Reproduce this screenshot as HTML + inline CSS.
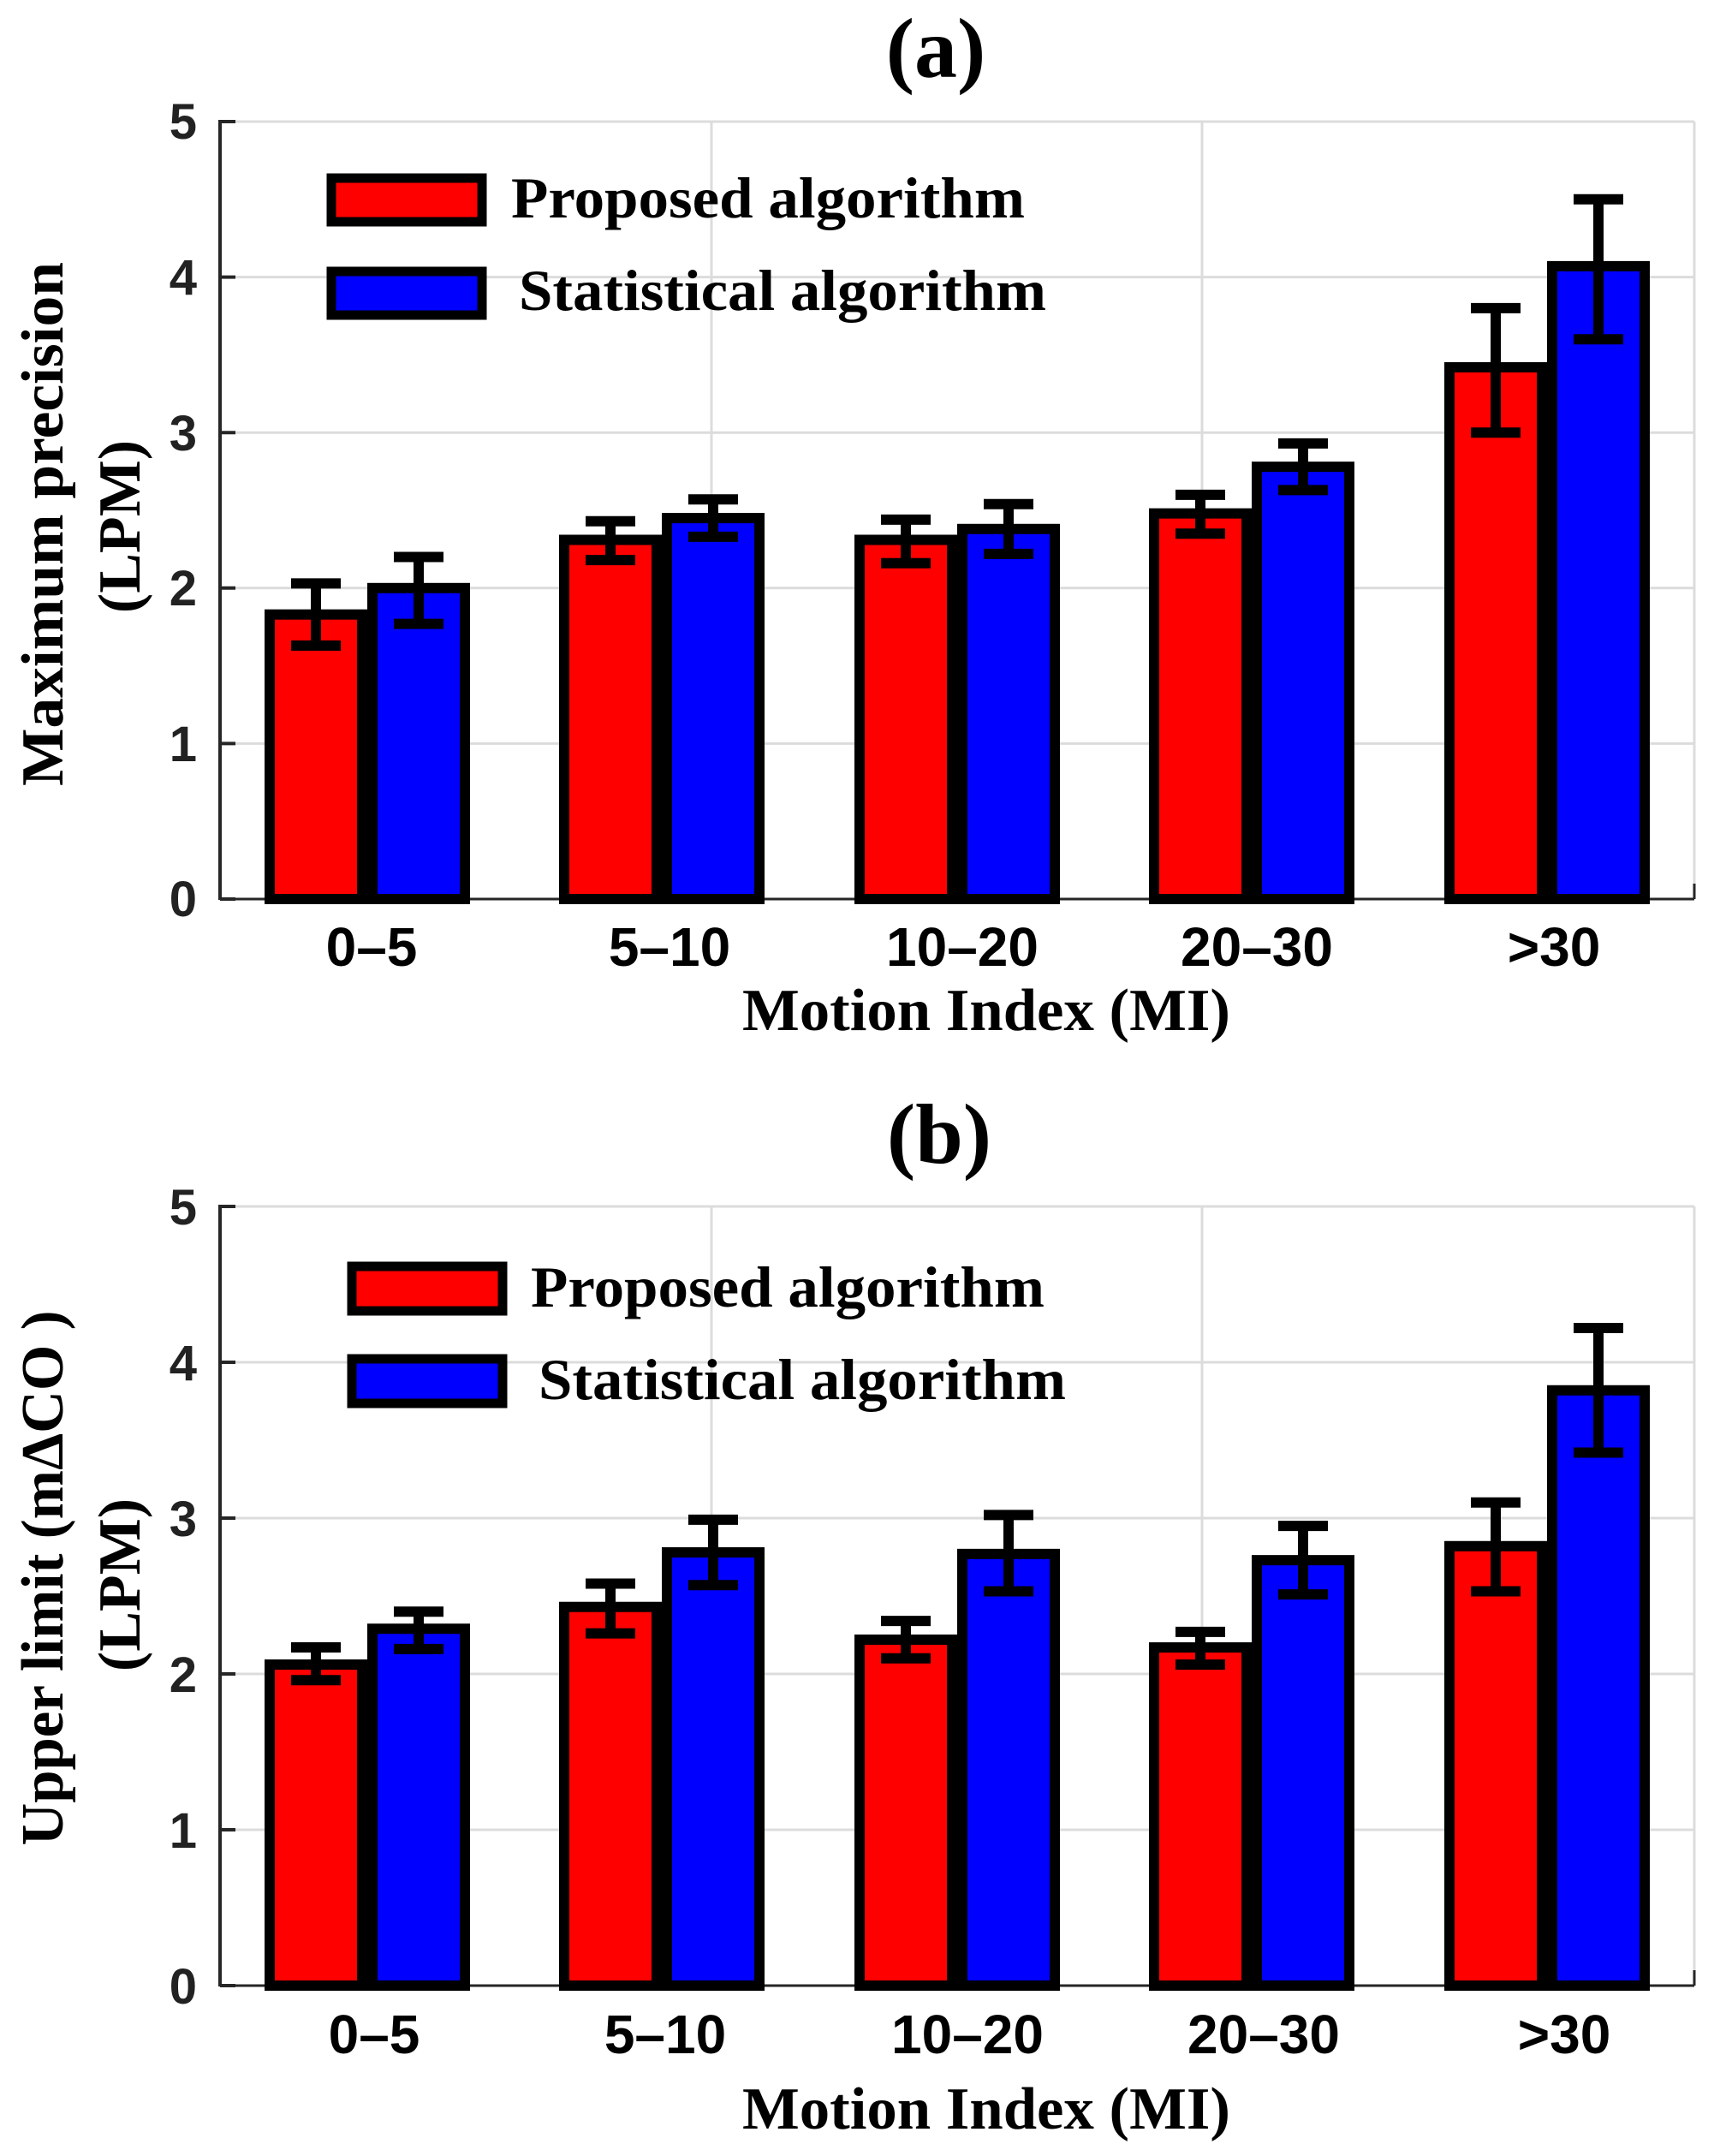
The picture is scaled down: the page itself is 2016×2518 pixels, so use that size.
<!DOCTYPE html>
<html><head><meta charset="utf-8"><style>
html,body{margin:0;padding:0;background:#fff;}
svg{display:block;}
.tk{font-family:"Liberation Sans",sans-serif;font-weight:bold;font-size:58px;fill:#222;}
.xt{font-family:"Liberation Sans",sans-serif;font-weight:bold;font-size:64px;fill:#000;}
.sf{font-family:"Liberation Serif",serif;font-weight:bold;fill:#000;}
</style></head><body>
<svg id="s" width="2016" height="2518" viewBox="0 0 2016 2518" xmlns="http://www.w3.org/2000/svg">
<rect width="2016" height="2518" fill="#fff"/>
<g id="pa"></g><g id="pb"></g>
<!-- Panel a text -->
<text class="sf" x="1093" y="90" font-size="100" text-anchor="middle">(a)</text>
<text class="tk" x="230" y="162" text-anchor="end">5</text>
<text class="tk" x="230" y="344" text-anchor="end">4</text>
<text class="tk" x="230" y="526" text-anchor="end">3</text>
<text class="tk" x="230" y="707" text-anchor="end">2</text>
<text class="tk" x="230" y="889" text-anchor="end">1</text>
<text class="tk" x="230" y="1070" text-anchor="end">0</text>
<text class="xt" x="434" y="1128" text-anchor="middle">0–5</text>
<text class="xt" x="782" y="1128" text-anchor="middle">5–10</text>
<text class="xt" x="1124" y="1128" text-anchor="middle">10–20</text>
<text class="xt" x="1468" y="1128" text-anchor="middle">20–30</text>
<text class="xt" x="1815" y="1128" text-anchor="middle">&gt;30</text>
<text class="sf" x="1152" y="1203" font-size="70" text-anchor="middle" textLength="570" lengthAdjust="spacingAndGlyphs">Motion Index (MI)</text>
<text class="sf" font-size="70" text-anchor="middle" transform="translate(73,612) rotate(-90)" textLength="612" lengthAdjust="spacingAndGlyphs">Maximum precision</text>
<text class="sf" font-size="70" text-anchor="middle" transform="translate(163,615) rotate(-90)">(LPM)</text>
<text class="sf" x="597" y="254" font-size="68" textLength="600" lengthAdjust="spacingAndGlyphs">Proposed algorithm</text>
<text class="sf" x="606" y="362" font-size="68" textLength="616" lengthAdjust="spacingAndGlyphs">Statistical algorithm</text>
<!-- Panel b text -->
<text class="sf" x="1097" y="1358" font-size="100" text-anchor="middle">(b)</text>
<text class="tk" x="230" y="1430" text-anchor="end">5</text>
<text class="tk" x="230" y="1612" text-anchor="end">4</text>
<text class="tk" x="230" y="1794" text-anchor="end">3</text>
<text class="tk" x="230" y="1976" text-anchor="end">2</text>
<text class="tk" x="230" y="2158" text-anchor="end">1</text>
<text class="tk" x="230" y="2340" text-anchor="end">0</text>
<text class="xt" x="437" y="2398" text-anchor="middle">0–5</text>
<text class="xt" x="777" y="2398" text-anchor="middle">5–10</text>
<text class="xt" x="1130" y="2398" text-anchor="middle">10–20</text>
<text class="xt" x="1476" y="2398" text-anchor="middle">20–30</text>
<text class="xt" x="1827" y="2398" text-anchor="middle">&gt;30</text>
<text class="sf" x="1152" y="2486" font-size="70" text-anchor="middle" textLength="570" lengthAdjust="spacingAndGlyphs">Motion Index (MI)</text>
<text class="sf" font-size="70" text-anchor="middle" transform="translate(73,1843) rotate(-90)" textLength="625" lengthAdjust="spacingAndGlyphs">Upper limit (mΔCO )</text>
<text class="sf" font-size="70" text-anchor="middle" transform="translate(163,1851) rotate(-90)">(LPM)</text>
<text class="sf" x="620" y="1526" font-size="68" textLength="600" lengthAdjust="spacingAndGlyphs">Proposed algorithm</text>
<text class="sf" x="629" y="1634" font-size="68" textLength="616" lengthAdjust="spacingAndGlyphs">Statistical algorithm</text>
</svg>
<script>
(function(){
var NS="http://www.w3.org/2000/svg";
function el(p,t,a){var e=document.createElementNS(NS,t);for(var k in a)e.setAttribute(k,a[k]);p.appendChild(e);return e;}
function panel(g,y0,u,data,leg){
  var L=257,R=1979,centers=[429,773,1118,1462,1807];
  for(var i=1;i<=5;i++)el(g,"line",{x1:L,x2:R,y1:y0-i*u,y2:y0-i*u,stroke:"#dcdcdc","stroke-width":3});
  [831,1404,R].forEach(function(x){el(g,"line",{x1:x,x2:x,y1:y0-5*u,y2:y0,stroke:"#dcdcdc","stroke-width":3});});
  el(g,"line",{x1:L,x2:R,y1:y0,y2:y0,stroke:"#262626","stroke-width":3});
  el(g,"line",{x1:L,x2:L,y1:y0-5*u-2,y2:y0+1,stroke:"#262626","stroke-width":4});
  el(g,"line",{x1:R,x2:R,y1:y0,y2:y0-18,stroke:"#262626","stroke-width":3});
  for(var i=0;i<=5;i++)el(g,"line",{x1:L,x2:L+18,y1:y0-i*u,y2:y0-i*u,stroke:"#262626","stroke-width":4});
  el(g,"rect",{x:leg[0]+5,y:leg[1]+5,width:leg[2]-10,height:leg[3]-10,fill:"#f00",stroke:"#000","stroke-width":11});
  el(g,"rect",{x:leg[0]+5,y:leg[4]+5,width:leg[2]-10,height:leg[3]-10,fill:"#00f",stroke:"#000","stroke-width":11});
  data.forEach(function(d,i){
    var c=centers[i];
    [[c-120,d[0],"#f00"],[c,d[3],"#00f"]].forEach(function(b){
      var top=y0-b[1]*u;
      el(g,"rect",{x:b[0]+6,y:top,width:108,height:y0-top,fill:b[2],stroke:"#000","stroke-width":12});
    });
    [[c-60,d[1],d[2]],[c+60,d[4],d[5]]].forEach(function(e){
      var a=y0-e[1]*u,b=y0-e[2]*u;
      el(g,"line",{x1:e[0],x2:e[0],y1:a,y2:b,stroke:"#000","stroke-width":12});
      el(g,"line",{x1:e[0]-29,x2:e[0]+29,y1:a,y2:a,stroke:"#000","stroke-width":12});
      el(g,"line",{x1:e[0]-29,x2:e[0]+29,y1:b,y2:b,stroke:"#000","stroke-width":12});
    });
  });
}
panel(document.getElementById("pa"),1050,181.6,[
 [1.83,1.63,2.03,2.0,1.77,2.2],
 [2.31,2.18,2.43,2.45,2.33,2.57],
 [2.31,2.16,2.44,2.38,2.22,2.54],
 [2.48,2.35,2.6,2.78,2.63,2.93],
 [3.42,3.0,3.8,4.07,3.6,4.5]],[382,203,186,61,312]);
panel(document.getElementById("pb"),2319,182,[
 [2.06,1.96,2.17,2.29,2.16,2.4],
 [2.43,2.26,2.58,2.78,2.57,2.99],
 [2.22,2.10,2.34,2.77,2.53,3.02],
 [2.17,2.06,2.27,2.73,2.51,2.95],
 [2.82,2.53,3.10,3.82,3.42,4.22]],[406,1474,186,62,1582]);
})();
</script>
</body></html>
